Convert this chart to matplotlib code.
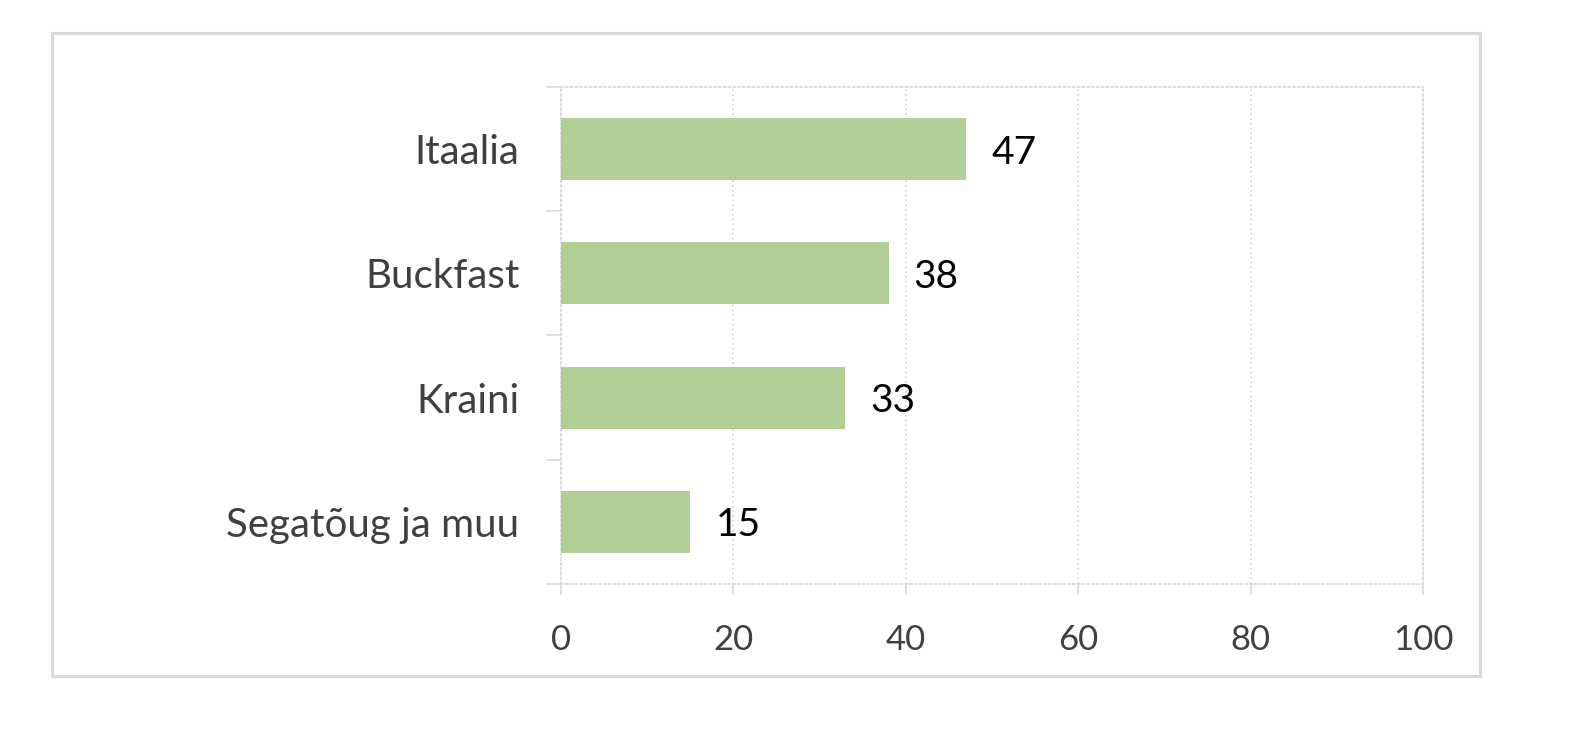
import matplotlib
matplotlib.use('Agg')
import matplotlib.pyplot as plt
from matplotlib.patches import Rectangle

# Data
categories = ['Segatõug ja muu', 'Kraini', 'Buckfast', 'Itaalia']
values = [15, 33, 38, 47]
xticks = [0, 20, 40, 60, 80, 100]

BAR_COLOR = '#B1CF95'
GRID_COLOR = '#D9D9D9'
TEXT_COLOR = '#404040'

plt.rcParams['font.family'] = ['Lato', 'DejaVu Sans']

fig = plt.figure(figsize=(15.78, 7.52), dpi=100)
fig.patch.set_facecolor('white')

# outer chart border
fig.patches.append(Rectangle((52/1578, 1-676/752), 1428/1578, 643/752,
                             transform=fig.transFigure, fill=False,
                             edgecolor=GRID_COLOR, linewidth=2.2))

ax = fig.add_axes([561/1578, 1-584/752, 862/1578, 497/752])

ypos = list(range(len(categories)))
ax.barh(ypos, values, height=0.5, color=BAR_COLOR, zorder=3)

for y, v in zip(ypos, values):
    ax.annotate(str(v), (v, y), xytext=(18, 0), textcoords='offset points',
                ha='left', va='center_baseline', fontsize=28, color='black')

ax.set_xlim(0, 100)
ax.set_ylim(-0.5, len(categories) - 0.5)
ax.set_xticks(xticks)
ax.set_xticklabels([str(t) for t in xticks], fontsize=25, color=TEXT_COLOR)

# category boundaries get tick marks, labels sit in between
ax.set_yticks([i - 0.5 for i in range(len(categories) + 1)])
ax.set_yticklabels([])
ax.set_yticks(ypos, minor=True)
ax.set_yticklabels(categories, minor=True, fontsize=29, color=TEXT_COLOR)
ax.tick_params(axis='y', which='minor', length=0, pad=30)
ax.tick_params(axis='y', which='major', length=11, color=GRID_COLOR, width=1.2)
ax.tick_params(axis='x', length=8, color=GRID_COLOR, width=1.2, pad=21)

ax.grid(axis='x', linestyle=':', color=GRID_COLOR, linewidth=1.3, zorder=0)
for s in ax.spines.values():
    s.set_linestyle(':')
    s.set_color(GRID_COLOR)
    s.set_linewidth(1.3)

fig.savefig('out.png', dpi=100)
